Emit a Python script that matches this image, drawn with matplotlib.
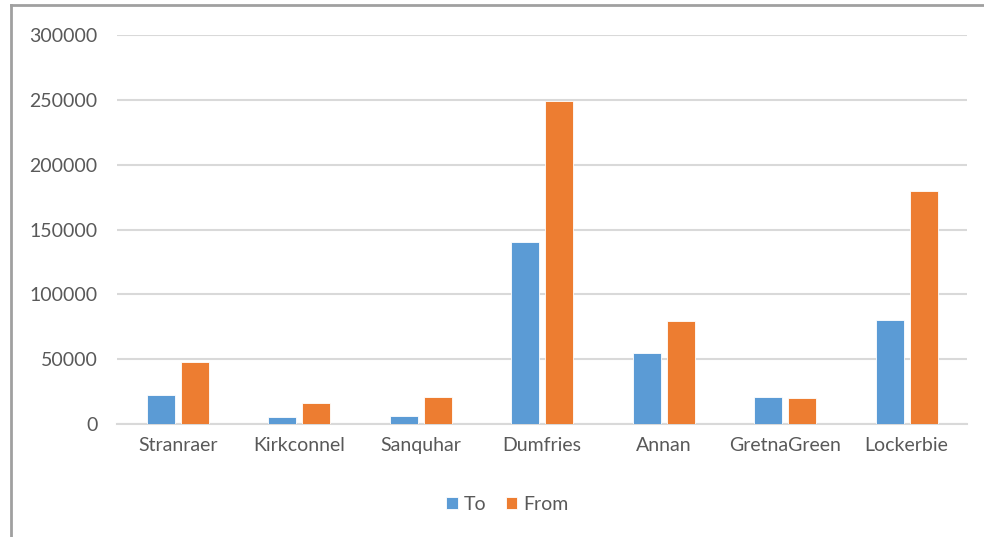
import matplotlib
matplotlib.use("Agg")
import matplotlib.pyplot as plt
import numpy as np
from matplotlib.lines import Line2D

# ---- data ----
towns = ["Stranraer", "Kirkconnel", "Sanquhar", "Dumfries", "Annan", "GretnaGreen", "Lockerbie"]
to_vals = [22000, 5500, 6500, 140000, 55000, 21000, 80000]
from_vals = [48000, 16500, 21000, 249000, 79500, 20300, 180000]
y_ticks = [0, 50000, 100000, 150000, 200000, 250000, 300000]

blue = "#5B9BD5"
orange = "#ED7D31"
grey_txt = "#595959"

plt.rcParams['font.family'] = ['Lato', 'DejaVu Sans']

fig = plt.figure(figsize=(9.84, 5.37), dpi=100)
ax = fig.add_axes([0.119, 0.2104, 0.864, 0.7244])

x = np.arange(len(towns))
w = 0.23
off = 0.14
ax.bar(x - off, to_vals, w, color=blue, label="To", edgecolor="white", linewidth=0.6, zorder=3)
ax.bar(x + off, from_vals, w, color=orange, label="From", edgecolor="white", linewidth=0.6, zorder=3)

ax.set_xlim(-0.5, len(towns) - 0.5)
ax.set_ylim(0, 300000)
ax.set_yticks(y_ticks)
ax.set_yticklabels([str(v) for v in y_ticks])
ax.set_xticks(x)
ax.set_xticklabels(towns)
ax.yaxis.grid(True, color="#D9D9D9", linewidth=1.5, zorder=0)
ax.set_axisbelow(True)
for s in ["top", "right", "left"]:
    ax.spines[s].set_visible(False)
ax.spines["bottom"].set_color("#D9D9D9")
ax.spines["bottom"].set_linewidth(1.5)
ax.tick_params(axis="both", length=0, labelsize=14, labelcolor=grey_txt)
ax.tick_params(axis="y", pad=14)
ax.tick_params(axis="x", pad=9)

ax.legend(loc="upper center", bbox_to_anchor=(0.459, -0.14), ncol=2, frameon=False,
          fontsize=14, labelcolor=grey_txt, handlelength=0.6, handleheight=0.6,
          handletextpad=0.3, columnspacing=1.0)

# outer chart frame (screenshot edge)
fig.add_artist(Line2D([0.011, 0.011], [0, 0.99], transform=fig.transFigure, color="#A0A0A0", linewidth=2))
fig.add_artist(Line2D([0.011, 1.0], [0.99, 0.99], transform=fig.transFigure, color="#A0A0A0", linewidth=2))

fig.savefig("out.png", dpi=100)
